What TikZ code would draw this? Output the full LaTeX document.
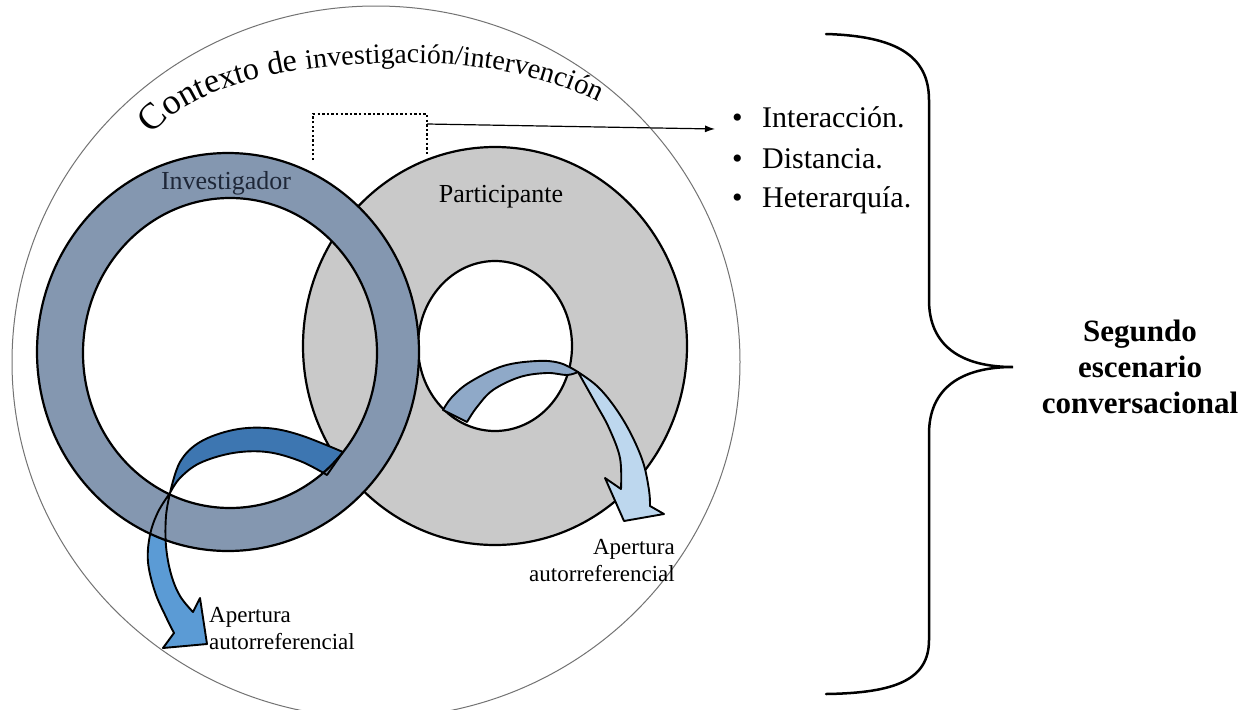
\documentclass[tikz,border=0pt]{standalone}
\usepackage{fontspec}
\setmainfont{Liberation Serif}
\usetikzlibrary{decorations.text, arrows.meta}
\definecolor{invring}{HTML}{8497B0}
\definecolor{partring}{HTML}{C9C9C9}
\definecolor{larrowback}{HTML}{3D76B1}
\definecolor{larrowfront}{HTML}{5B9BD5}
\definecolor{rarrowback}{HTML}{8FA9C8}
\definecolor{rarrowfront}{HTML}{BDD7EE}
\definecolor{ringlabel}{HTML}{1E2738}
\newcommand\fsz[1]{\fontsize{#1}{#1}\selectfont}
\begin{document}
\begin{tikzpicture}[x=1pt,y=-1pt,
  ringline/.style={draw=black, line width=2.2pt, even odd rule},
  arrowline/.style={draw=black, line width=1.9pt, line join=round},
  contextline/.style={draw=black!55, line width=1pt},
  ringtext/.style={anchor=base, inner sep=0pt, font=\fontsize{26}{30}\selectfont},
  openlabel/.style={inner sep=0pt, font=\fontsize{23}{27}\selectfont},
  itemtext/.style={anchor=base west, inner sep=0pt, font=\fontsize{30}{36}\selectfont},
  bracketline/.style={draw=black, line width=2.3pt, dash pattern=on 2.3pt off 2.3pt},
  bracelinestyle/.style={draw=black, line width=2.5pt, line cap=round}]
\useasboundingbox (0,0) rectangle (1254,710);
\clip (0,0) rectangle (1254,710);
\fill[white] (0,0) rectangle (1254,710);

% context circle
\draw[contextline] (376,362) ellipse [x radius=364, y radius=356];
\path[decorate, decoration={text along path, text align=left,
  text={|\fsz{37}|C|\fsz{36}|o|\fsz{35}|n|\fsz{34}|te|\fsz{32}|xto|\fsz{32}| de|\fsz{30}| |\fsz{28}|investig|\fsz{27.5}|ación|\fsz{28}|/inter|\fsz{28.5}|venc|\fsz{29}|ión}}]
  (152,135) .. controls (195,82) and (300,64) .. (400,63)
  .. controls (480,62) and (560,75) .. (630,120);

% Participante ring
\path[ringline, fill=partring] (495,346) ellipse [x radius=192, y radius=199]
  (495,346) ellipse [x radius=77, y radius=85];

% right arrow (on top of Participante ring)
\path[arrowline, fill=rarrowback] plot[smooth, tension=0.6] coordinates {(443,410) (452,397) (470,382) (503,366) (537,361) (560,363) (578,372)}
  -- plot[smooth, tension=0.6] coordinates {(578,372) (567,375) (547,373) (520,377) (493,390) (477,407) (467,422)} -- cycle;
\path[arrowline, fill=rarrowfront] plot[smooth, tension=0.6] coordinates {(578,372) (597,386) (614,406) (630,432) (643,462) (649,490) (650,506)}
  -- (664,514) -- (624,521) -- (605,478)
  -- plot[smooth, tension=0.6] coordinates {(621,489) (620,458) (609,428) (596,404) (578,372)} -- cycle;

% left arrow fill (under Investigador ring)
\path[fill=larrowback] plot[smooth, tension=0.6] coordinates {(343,452) (300,435) (267,428) (233,430) (200,442) (180,462) (170,493)}
  -- plot[smooth, tension=0.6] coordinates {(170,493) (180,478) (200,463) (233,453) (267,452) (300,461) (327,475)} -- cycle;
\path[fill=larrowfront] plot[smooth, tension=0.6] coordinates {(170,493) (158,512) (150,535) (148,562) (155,592) (166,617) (174,633)}
  -- (163,648) -- (207,644) -- (200,598)
  -- plot[smooth, tension=0.6] coordinates {(193,612) (180,596) (171,574) (166,546) (166,516) (170,493)} -- cycle;

% Investigador ring
\path[ringline, fill=invring] (228,352) ellipse [x radius=191, y radius=199]
  (230,353) ellipse [x radius=147, y radius=155];

% left arrow outline on top
\path[arrowline] plot[smooth, tension=0.6] coordinates {(343,452) (300,435) (267,428) (233,430) (200,442) (180,462) (170,493)}
  -- plot[smooth, tension=0.6] coordinates {(170,493) (180,478) (200,463) (233,453) (267,452) (300,461) (327,475)} -- cycle;
\path[arrowline] plot[smooth, tension=0.6] coordinates {(170,493) (158,512) (150,535) (148,562) (155,592) (166,617) (174,633)}
  -- (163,648) -- (207,644) -- (200,598)
  -- plot[smooth, tension=0.6] coordinates {(193,612) (180,596) (171,574) (166,546) (166,516) (170,493)} -- cycle;

% ring labels
\node[ringtext, text=ringlabel] (inv) at (226,189) {Investigador};
\node[ringtext] (part) at (501,202) {Participante};

% opening labels
\node[openlabel, anchor=north west, align=left] (openL) at (209,607) {Apertura\\autorreferencial};
\node[openlabel, anchor=north east, align=right] (openR) at (675,539) {Apertura\\autorreferencial};

% dotted bracket and arrow to list
\coordinate (brkA) at (313,160);
\coordinate (brkB) at (313,114);
\coordinate (brkC) at (427,114);
\coordinate (brkD) at (427,155);
\coordinate (brkOut) at (427,124);
\coordinate (listIn) at (715,129);
\draw[bracketline] (brkA) -- (brkB) -- (brkC) -- (brkD);
\draw[line width=1.2pt, -{Latex[length=10pt, width=7pt]}] (brkOut) -- (listIn);

% list
\node[itemtext] (it1) at (732,127) {\makebox[30pt][l]{•}Interacción.};
\node[itemtext] (it2) at (732,168) {\makebox[30pt][l]{•}Distancia.};
\node[itemtext] (it3) at (732,207) {\makebox[30pt][l]{•}Heterarquía.};

% brace
\draw[bracelinestyle] (826,34) .. controls (895,36) and (929,55) .. (929,100) -- (929,300)
  .. controls (929,345) and (960,367) .. (1013,367)
  .. controls (960,367) and (929,389) .. (929,434) -- (929,640)
  .. controls (929,680) and (895,693) .. (826,694);

\node[anchor=north, inner sep=0pt, align=center, font=\bfseries\fontsize{31}{36}\selectfont] (scen) at (1140,320) {Segundo\\escenario\\conversacional};
\end{tikzpicture}
\end{document}
